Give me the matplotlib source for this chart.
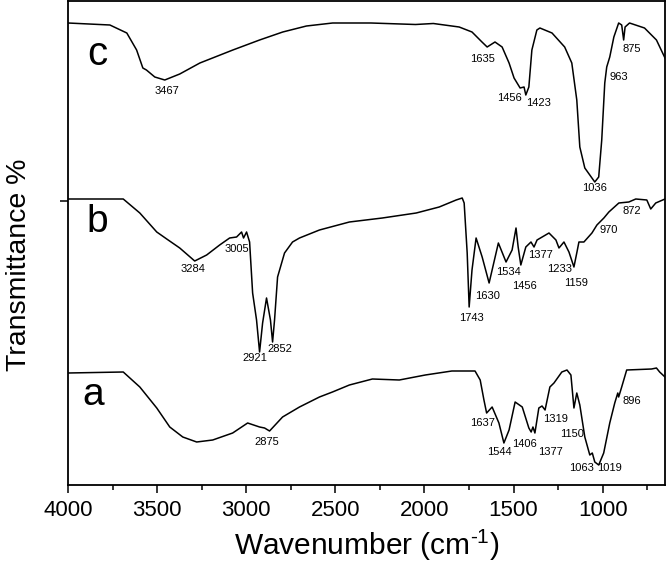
import matplotlib
matplotlib.use("Agg")
import matplotlib.pyplot as plt
from matplotlib.ticker import MultipleLocator

plt.rcParams['font.family'] = ['Liberation Sans', 'DejaVu Sans']
plt.rcParams['mathtext.fontset'] = 'custom'
plt.rcParams['mathtext.rm'] = 'Liberation Sans'
plt.rcParams['mathtext.default'] = 'regular'

# spectrum c (wavenumber, transmittance a.u., already offset)
c_wn = [4000, 3765, 3670, 3615, 3580, 3560, 3513, 3457, 3373, 3260, 3075, 2925, 2795, 2662,
        2515, 2300, 2050, 2000, 1950, 1805, 1733, 1677, 1648, 1604, 1564, 1525, 1497, 1463,
        1441, 1431, 1414, 1397, 1369, 1352, 1284, 1213, 1173, 1145, 1128, 1100, 1072, 1044,
        1022, 1005, 988, 977, 960, 937, 910, 893, 882, 874, 849, 765, 698, 650]
c_t = [462, 460, 452, 435, 417, 415, 408, 405, 411, 422, 435, 445, 453, 459,
       462, 462, 460.5, 461, 461.5, 458, 453, 443, 438, 443, 438, 422, 407, 397,
       398, 390, 398, 435, 455, 457, 452, 438, 422, 385, 338, 317, 310, 303,
       308, 345, 402, 418, 428, 448, 462, 460, 445, 458, 462, 457, 445, 427]

# spectrum b
b_wn = [4000, 3690, 3597, 3502, 3446, 3373, 3289, 3222, 3149, 3093, 3054, 3026, 3015, 2998,
        2981, 2964, 2942, 2925, 2908, 2886, 2864, 2852, 2841, 2824, 2785, 2740, 2701, 2589,
        2421, 2236, 2046, 1917, 1822, 1788, 1777, 1760, 1749, 1733, 1710, 1676, 1637, 1598,
        1585, 1542, 1508, 1486, 1474, 1459, 1431, 1402, 1385, 1368, 1301, 1262, 1245, 1217,
        1189, 1161, 1144, 1133, 1105, 1060, 1032, 993, 965, 909, 853, 814, 752, 730, 702, 650]
b_t = [286, 286, 272, 253, 246, 237, 224, 230, 240, 247, 248, 253, 247, 253,
       243, 192, 165, 133, 162, 187, 165, 143, 165, 208, 232, 243, 247, 255,
       263, 267, 272, 278, 285, 287, 282, 232, 178, 215, 247, 228, 202, 232,
       242, 223, 235, 257, 238, 220, 238, 243, 238, 245, 252, 245, 237, 243,
       233, 218, 233, 243, 243, 252, 260, 267, 273, 282, 283, 286, 285, 276, 282, 286]

# spectrum a
a_wn = [4000, 3690, 3597, 3502, 3429, 3356, 3278, 3188, 3076, 2992, 2925, 2897, 2869, 2796,
        2701, 2589, 2516, 2421, 2292, 2141, 1995, 1846, 1716, 1687, 1666, 1651, 1620, 1582,
        1554, 1525, 1491, 1451, 1414, 1401, 1391, 1380, 1358, 1340, 1323, 1296, 1273, 1229,
        1200, 1178, 1161, 1145, 1128, 1100, 1072, 1058, 1044, 1022, 994, 960, 932, 915,
        910, 893, 865, 725, 698, 680, 650]
a_t = [112, 113, 98, 77, 58, 48, 43, 45, 52, 62, 58, 57, 54, 68,
       78, 88, 93, 100, 106, 105, 110, 114, 114, 105, 85, 72, 78, 62,
       42, 55, 83, 78, 57, 53, 58, 52, 77, 79, 75, 98, 102, 113,
       115, 110, 77, 92, 80, 48, 30, 32, 23, 20, 32, 62, 82, 92,
       88, 98, 115, 116, 117, 113, 108]

# peak labels: text, x, y
c_labels = [("3467", 3446, 394), ("1635", 1676, 426), ("1456", 1525, 387), ("1423", 1357, 382),
            ("1036", 1043, 297), ("963", 909, 408), ("875", 836, 436)]
b_labels = [("3284", 3300, 216), ("3005", 3054, 236), ("2921", 2953, 127), ("2852", 2813, 136),
            ("1743", 1738, 167), ("1630", 1648, 189), ("1534", 1530, 213), ("1456", 1441, 199),
            ("1377", 1346, 230), ("1233", 1239, 216), ("1159", 1150, 202), ("970", 965, 255),
            ("872", 836, 274)]
a_labels = [("2875", 2886, 43), ("1637", 1676, 62), ("1544", 1581, 33), ("1406", 1441, 41),
            ("1377", 1290, 33), ("1319", 1267, 66), ("1150", 1172, 51), ("1063", 1116, 17),
            ("1019", 959, 17), ("896", 836, 84)]

fig = plt.figure(figsize=(6.66, 5.63), dpi=100)
ax = fig.add_axes([68 / 666, 78 / 563, 597 / 666, 484 / 563])

for wn, t in [(c_wn, c_t), (b_wn, b_t), (a_wn, a_t)]:
    ax.plot(wn, t, color='black', lw=1.1)

for labels in [c_labels, b_labels, a_labels]:
    for txt, x, y in labels:
        ax.text(x, y, txt, fontsize=8, ha='center', va='center')

ax.text(3838, 431, "c", fontsize=29, ha='center', va='center')
ax.text(3838, 263, "b", fontsize=28, ha='center', va='center')
ax.text(3860, 90, "a", fontsize=28, ha='center', va='center')

ax.set_xlim(4000, 650)
ax.set_ylim(0, 484)
ax.xaxis.set_major_locator(MultipleLocator(500))
ax.xaxis.set_minor_locator(MultipleLocator(250))
ax.set_yticks([284])
ax.set_yticklabels([])
ax.tick_params(axis='both', which='major', direction='out', length=6, width=1.1,
               labelsize=16, pad=5)
ax.tick_params(axis='x', which='minor', direction='out', length=3.5, width=1.1)
for s in ax.spines.values():
    s.set_linewidth(1.3)

ax.set_xlabel("Wavenumber (cm$^{\u20101}$)", fontsize=21.5, labelpad=5)
ax.set_ylabel("Transmittance %", fontsize=20.5)
ax.yaxis.set_label_coords(-0.060, 0.455)

fig.savefig("out.png", dpi=100)
